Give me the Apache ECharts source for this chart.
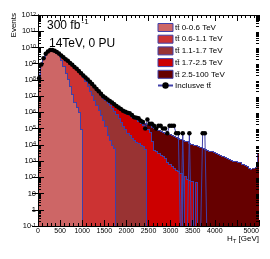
<!DOCTYPE html>
<html><head><meta charset="utf-8">
<script src="https://cdn.jsdelivr.net/npm/echarts@6/dist/echarts.min.js"></script>
<style>html,body{margin:0;padding:0;background:#fff}#c{width:270px;height:259px}</style>
</head><body><div id="c"></div>
<script>
// H_T bins (lower edges, GeV), 50 GeV wide
const htBinLow = [
  0, 50, 100, 150, 200, 250, 300, 350, 400, 450,
  500, 550, 600, 650, 700, 750, 800, 850, 900, 950,
  1000, 1050, 1100, 1150, 1200, 1250, 1300, 1350, 1400, 1450,
  1500, 1550, 1600, 1650, 1700, 1750, 1800, 1850, 1900, 1950,
  2000, 2050, 2100, 2150, 2200, 2250, 2300, 2350, 2400, 2450,
  2500, 2550, 2600, 2650, 2700, 2750, 2800, 2850, 2900, 2950,
  3000, 3050, 3100, 3150, 3200, 3250, 3300, 3350, 3400, 3450,
  3500, 3550, 3600, 3650, 3700, 3750, 3800, 3850, 3900, 3950,
  4000, 4050, 4100, 4150, 4200, 4250, 4300, 4350, 4400, 4450,
  4500, 4550, 4600, 4650, 4700, 4750, 4800, 4850, 4900, 4950
];
const htBinWidth = 50;

// tt 0-0.6 TeV
const ttbar_0_06 = [
  1.1e8, 8.9e8, 2.2e9, 4.0e9, 5.6e9, 6.9e9, 6.8e9, 6.0e9, 4.6e9, 3.5e9,
  1.8e9, 7.0e8, 2.8e8, 1.1e8, 4.0e7, 1.4e7, 4.5e6, 2.0e6, 1.0e6, 1.0e5,
  0, 0, 0, 0, 0, 0, 0, 0, 0, 0,
  0, 0, 0, 0, 0, 0, 0, 0, 0, 0,
  0, 0, 0, 0, 0, 0, 0, 0, 0, 0,
  0, 0, 0, 0, 0, 0, 0, 0, 0, 0,
  0, 0, 0, 0, 0, 0, 0, 0, 0, 0,
  0, 0, 0, 0, 0, 0, 0, 0, 0, 0,
  0, 0, 0, 0, 0, 0, 0, 0, 0, 0,
  0, 0, 0, 0, 0, 0, 0, 0, 0, 0
];
// tt 0.6-1.1 TeV
const ttbar_06_11 = [
  0, 0, 0, 0, 2e6, 1e7, 1e8, 3e8, 6e8, 6.5e8,
  1.35e9, 1.8e9, 1.6e9, 1.37e9, 1.08e9, 8.3e8, 6.2e8, 4.6e8, 3.3e8, 2.5e8,
  1.58e8, 8.9e7, 4.5e7, 2.2e7, 1.1e7, 5.6e6, 2.8e6, 1.4e6, 7e5, 3.2e5,
  1.4e5, 4e4, 2e4, 1e4, 6e3, 0, 0, 0, 0, 0,
  0, 0, 0, 0, 0, 0, 0, 0, 0, 0,
  0, 0, 0, 0, 0, 0, 0, 0, 0, 0,
  0, 0, 0, 0, 0, 0, 0, 0, 0, 0,
  0, 0, 0, 0, 0, 0, 0, 0, 0, 0,
  0, 0, 0, 0, 0, 0, 0, 0, 0, 0,
  0, 0, 0, 0, 0, 0, 0, 0, 0, 0
];
// tt 1.1-1.7 TeV
const ttbar_11_17 = [
  0, 0, 0, 0, 0, 0, 0, 0, 0, 0,
  0, 0, 0, 0, 0, 1e6, 3e6, 6e6, 1e7, 1.2e7,
  3.2e7, 5.1e7, 5.9e7, 5.3e7, 4.4e7, 3.3e7, 2.36e7, 1.68e7, 1.14e7, 7.6e6,
  5.5e6, 4.0e6, 2.75e6, 1.85e6, 1.21e6, 8e5, 4.5e5, 2.5e5, 1.4e5, 9e4,
  5.6e4, 4e4, 2.8e4, 2e4, 1.6e4, 1.26e4, 1e4, 8e3, 5.6e3, 0,
  0, 0, 0, 0, 0, 0, 0, 0, 0, 0,
  0, 0, 0, 0, 0, 0, 0, 0, 0, 0,
  0, 0, 0, 0, 0, 0, 0, 0, 0, 0,
  0, 0, 0, 0, 0, 0, 0, 0, 0, 0,
  0, 0, 0, 0, 0, 0, 0, 0, 0, 0
];
// tt 1.7-2.5 TeV
const ttbar_17_25 = [
  0, 0, 0, 0, 0, 0, 0, 0, 0, 0,
  0, 0, 0, 0, 0, 0, 0, 0, 0, 0,
  3e5, 5e5, 7e5, 9e5, 1.1e6, 1.3e6, 1.5e6, 1.7e6, 1.9e6, 2.0e6,
  2.1e6, 2.1e6, 2.1e6, 2.0e6, 1.85e6, 1.6e6, 1.45e6, 1.25e6, 1.04e6, 8.8e5,
  7.5e5, 6.4e5, 5.2e5, 4.2e5, 3.5e5, 2.9e5, 2.25e5, 1.7e5, 1.4e5, 1.0e5,
  5.8e4, 1.8e4, 5e3, 4e3, 3e3, 2.5e3, 2.2e3, 1.5e3, 900, 700,
  500, 350, 280, 250, 180, 0, 120, 80, 70, 60,
  0, 55, 0, 0, 0, 0, 0, 0, 0, 0,
  0, 0, 0, 0, 0, 0, 0, 0, 0, 0,
  0, 0, 0, 0, 0, 0, 0, 0, 0, 0
];
// tt 2.5-100 TeV
const ttbar_25_100 = [
  0, 0, 0, 0, 0, 0, 0, 0, 0, 0,
  0, 0, 0, 0, 0, 0, 0, 0, 0, 0,
  5e4, 5e4, 5e4, 6e4, 6e4, 6e4, 7e4, 7e4, 7e4, 7e4,
  7e4, 7e4, 7e4, 7.5e4, 7.5e4, 7.5e4, 7.5e4, 7.5e4, 8e4, 8e4,
  8e4, 8e4, 8e4, 8e4, 8e4, 8e4, 8e4, 8e4, 8e4, 9e4,
  1.0e5, 1.14e5, 1.06e5, 9.1e4, 8.0e4, 7.0e4, 6.2e4, 5.5e4, 4.9e4, 4.4e4,
  3.95e4, 3.5e4, 3.1e4, 2.8e4, 2.4e4, 2.1e4, 1.8e4, 1.6e4, 1.37e4, 1.2e4,
  1.05e4, 9.1e3, 8.6e3, 7.6e3, 6.6e3, 5.9e3, 5.0e3, 4.4e3, 4.1e3, 3.5e3,
  3.2e3, 2.7e3, 2.3e3, 2.0e3, 1.74e3, 1.55e3, 1.32e3, 1.2e3, 1.05e3, 950,
  850, 820, 660, 575, 480, 355, 316, 400, 450, 3.0e3
];
// inclusive tt sample
const inclusive = [
  1.25e8, 9.0e8, 2.2e9, 4.1e9, 5.6e9, 7.0e9, 7.0e9, 6.3e9, 5.2e9, 4.2e9,
  3.2e9, 2.5e9, 1.9e9, 1.5e9, 1.1e9, 8.6e8, 6.3e8, 4.8e8, 3.5e8, 2.6e8,
  1.9e8, 1.4e8, 1.05e8, 7.7e7, 5.6e7, 4.0e7, 2.8e7, 2.0e7, 1.4e7, 1.0e7,
  8.0e6, 6.3e6, 5.0e6, 4.1e6, 3.2e6, 2.5e6, 2.0e6, 1.6e6, 1.25e6, 1.1e6,
  9.5e5, 9.0e5, 7.0e5, 5.0e5, 4.6e5, 4.3e5, 3.1e5, 2.6e5, 1.0e5, 3.6e5,
  2.0e5, 2.0e5, 1.5e5, 1.0e5, 1.5e5, 1.5e5, 1.0e5, 1.0e5, 5.1e4, 1.5e5,
  1.5e5, 1.5e5, 5.1e4, 5.1e4, 0, 5.1e4, 0, 0, 5.1e4, 0,
  0, 0, 0, 0, 5.1e4, 5.1e4, 0, 0, 0, 0,
  0, 0, 0, 0, 0, 0, 0, 0, 0, 0,
  0, 0, 0, 0, 0, 0, 0, 0, 0, 0
];

const compNames = ['t\u0074\u0304 0-0.6 TeV', 't\u0074\u0304 0.6-1.1 TeV', 't\u0074\u0304 1.1-1.7 TeV', 't\u0074\u0304 1.7-2.5 TeV', 't\u0074\u0304 2.5-100 TeV'];
const inclName = 'Inclusve t\u0074\u0304';

const FONT = '"Liberation Sans", Arial, Helvetica, sans-serif';
const OUTLINE = '#4040a8';
const compColors = ['#cd6666', '#cc3333', '#993333', '#cc0000', '#660000'];
const comps = [ttbar_0_06, ttbar_06_11, ttbar_11_17, ttbar_17_25, ttbar_25_100];
const yMin = 0.1, yMax = 1e12;

// stacked (cumulative) heights as a THStack draws them
const cum = [];
let run = htBinLow.map(() => 0);
comps.forEach(c => { run = run.map((r, i) => r + c[i]); cum.push(run.slice()); });

function histSeries(k) {
  const vals = cum[k];
  return {
    type: 'custom', name: compNames[k], coordinateSystem: 'cartesian2d',
    xAxisIndex: 0, yAxisIndex: 0, z: 2, clip: true, silent: true,
    itemStyle: { color: compColors[k], borderColor: OUTLINE, borderWidth: 1 },
    encode: { x: [0, 1], y: 2 },
    data: htBinLow.map((lo, i) => [lo, lo + htBinWidth, vals[i] > 0 ? vals[i] : '-']),
    renderItem(params, api) {
      const i = params.dataIndex;
      const lo = api.value(0), hi = api.value(1), v = api.value(2);
      const has = v > 0;
      const pB = api.coord([lo, yMin]);
      const xL = Math.round(pB[0]);
      const xR = Math.round(api.coord([hi, yMin])[0]);
      const yB = Math.round(pB[1]);
      const yT = has ? Math.round(api.coord([lo, v])[1]) : yB;
      const pv = i > 0 ? vals[i - 1] : 0;
      const yP = pv > 0 ? Math.round(api.coord([lo, pv])[1]) : yB;
      const ch = [];
      if (has) ch.push({ type: 'rect', shape: { x: xL, y: yT, width: xR - xL, height: yB - yT }, style: { fill: compColors[k] } });
      if (has || pv > 0) ch.push({ type: 'line', shape: { x1: xL + 0.5, y1: yP, x2: xL + 0.5, y2: yT + (has ? 1 : 0) }, style: { stroke: OUTLINE, lineWidth: 1 } });
      if (has) ch.push({ type: 'line', shape: { x1: xL, y1: yT + 0.5, x2: xR, y2: yT + 0.5 }, style: { stroke: OUTLINE, lineWidth: 1 } });
      return { type: 'group', children: ch };
    }
  };
}

// log minor tick positions (axis decoration)
const yMinorTicks = [];
for (let e = -1; e < 12; e++) for (let m = 2; m <= 9; m++) yMinorTicks.push(m * Math.pow(10, e));

const series = [];
for (let k = 4; k >= 0; k--) series.push(histSeries(k));
series.push({
  type: 'custom', z: 5, silent: true, clip: false,
  encode: { x: 0, y: 1 },
  data: yMinorTicks.map(v => [0, v]),
  renderItem(params, api) {
    const v = api.value(1);
    const y = Math.round(api.coord([0, v])[1]) + 0.5;
    const xl = api.coord([0, v])[0];
    const xr = api.coord([5000, v])[0];
    return { type: 'group', children: [
      { type: 'line', shape: { x1: xl, y1: y, x2: xl + 3, y2: y }, style: { stroke: '#000', lineWidth: 1 } },
      { type: 'line', shape: { x1: xr - 3, y1: y, x2: xr, y2: y }, style: { stroke: '#000', lineWidth: 1 } }
    ] };
  }
});
series.push({
  type: 'line', name: inclName, z: 4, clip: true,
  data: htBinLow.map((lo, i) => [lo + htBinWidth / 2, inclusive[i] > 0 ? inclusive[i] : 0.01]),
  symbol: 'circle', showSymbol: true, showAllSymbol: true,
  symbolSize: (val) => (val[1] > 0.05 ? 4.5 : 0),
  itemStyle: { color: '#000' },
  lineStyle: { color: OUTLINE, width: 1 }
});

const axisLineStyle = { color: '#000', width: 1 };
const chart = echarts.init(document.getElementById('c'), null, { renderer: 'canvas' });
chart.setOption({
  animation: false,
  backgroundColor: '#fff',
  grid: { left: 38, right: 11, top: 15, bottom: 33 },
  xAxis: [
    { type: 'value', min: 0, max: 5000, interval: 500, position: 'bottom', z: 10,
      axisLine: { show: true, lineStyle: axisLineStyle },
      axisTick: { show: true, inside: true, length: 6, lineStyle: axisLineStyle },
      minorTick: { show: true, splitNumber: 5, length: 3, lineStyle: axisLineStyle },
      splitLine: { show: false },
      axisLabel: { fontSize: 7, fontFamily: FONT, color: '#000', margin: 2, alignMaxLabel: 'right',
        showMinLabel: true, showMaxLabel: true, hideOverlap: false, formatter: (v) => String(v) } },
    { type: 'value', min: 0, max: 5000, interval: 500, position: 'top', z: 10,
      axisLine: { show: true, lineStyle: axisLineStyle },
      axisTick: { show: true, inside: true, length: 6, lineStyle: axisLineStyle },
      minorTick: { show: true, splitNumber: 5, length: 3, lineStyle: axisLineStyle },
      splitLine: { show: false }, axisLabel: { show: false } }
  ],
  yAxis: [
    { type: 'log', logBase: 10, min: yMin, max: yMax, interval: 1, position: 'left', z: 10,
      axisLine: { show: true, lineStyle: axisLineStyle },
      axisTick: { show: true, inside: true, length: 6, lineStyle: axisLineStyle },
      splitLine: { show: false },
      axisLabel: {
        margin: 2, color: '#000', showMinLabel: true, showMaxLabel: true,
        formatter: (val) => {
          const e = Math.round(Math.log10(val));
          if (e === 0) return '{b|1}';
          if (e === 1) return '{b|10}';
          return '{b|10}{s|' + e + '}';
        },
        rich: {
          b: { fontSize: 7.5, fontFamily: FONT, color: '#000', lineHeight: 8 },
          s: { fontSize: 5.5, fontFamily: FONT, color: '#000', lineHeight: 6, verticalAlign: 'top', padding: [0, 0, 2, 0] }
        }
      } },
    { type: 'log', logBase: 10, min: yMin, max: yMax, interval: 1, position: 'right', z: 10,
      axisLine: { show: true, lineStyle: axisLineStyle },
      axisTick: { show: true, inside: true, length: 6, lineStyle: axisLineStyle },
      splitLine: { show: false }, axisLabel: { show: false } }
  ],
  legend: {
    orient: 'vertical', left: 152, top: 18, itemWidth: 15, itemHeight: 8, itemGap: 2.7,
    textStyle: { fontSize: 8, fontFamily: FONT, color: '#000', lineHeight: 8, padding: [0, 0, 0, -3] },
    selectedMode: false,
    data: compNames.map(n => ({ name: n, icon: 'rect', itemStyle: { borderColor: OUTLINE, borderWidth: 1 } }))
      .concat([{ name: inclName }])
  },
  graphic: [
    { type: 'text', x: 13.5, y: 13, rotation: Math.PI / 2, z: 20,
      style: { text: 'Events', font: '8px ' + FONT, fill: '#000', align: 'right', verticalAlign: 'middle', textAlign: 'right', textVerticalAlign: 'middle' } },
    { type: 'text', x: 47, y: 25.5, z: 20,
      style: { text: '300 fb', font: '12px ' + FONT, fill: '#000', verticalAlign: 'middle', textVerticalAlign: 'middle' } },
    { type: 'text', x: 81.5, y: 22, z: 20,
      style: { text: '-1', font: '8px ' + FONT, fill: '#000', verticalAlign: 'middle', textVerticalAlign: 'middle' } },
    { type: 'text', x: 49, y: 43.3, z: 20,
      style: { text: '14TeV, 0 PU', font: '12px ' + FONT, fill: '#000', verticalAlign: 'middle', textVerticalAlign: 'middle' } },
    { type: 'text', x: 227, y: 238.5, z: 20,
      style: { text: 'H', font: '8px ' + FONT, fill: '#000', verticalAlign: 'middle', textVerticalAlign: 'middle' } },
    { type: 'text', x: 233, y: 241, z: 20,
      style: { text: 'T', font: '5.5px ' + FONT, fill: '#000', verticalAlign: 'middle', textVerticalAlign: 'middle' } },
    { type: 'text', x: 259, y: 238.5, z: 20,
      style: { text: ' [GeV]', font: '8px ' + FONT, fill: '#000', align: 'right', verticalAlign: 'middle', textAlign: 'right', textVerticalAlign: 'middle' } }
  ],
  series: series
});
</script>
</body></html>
